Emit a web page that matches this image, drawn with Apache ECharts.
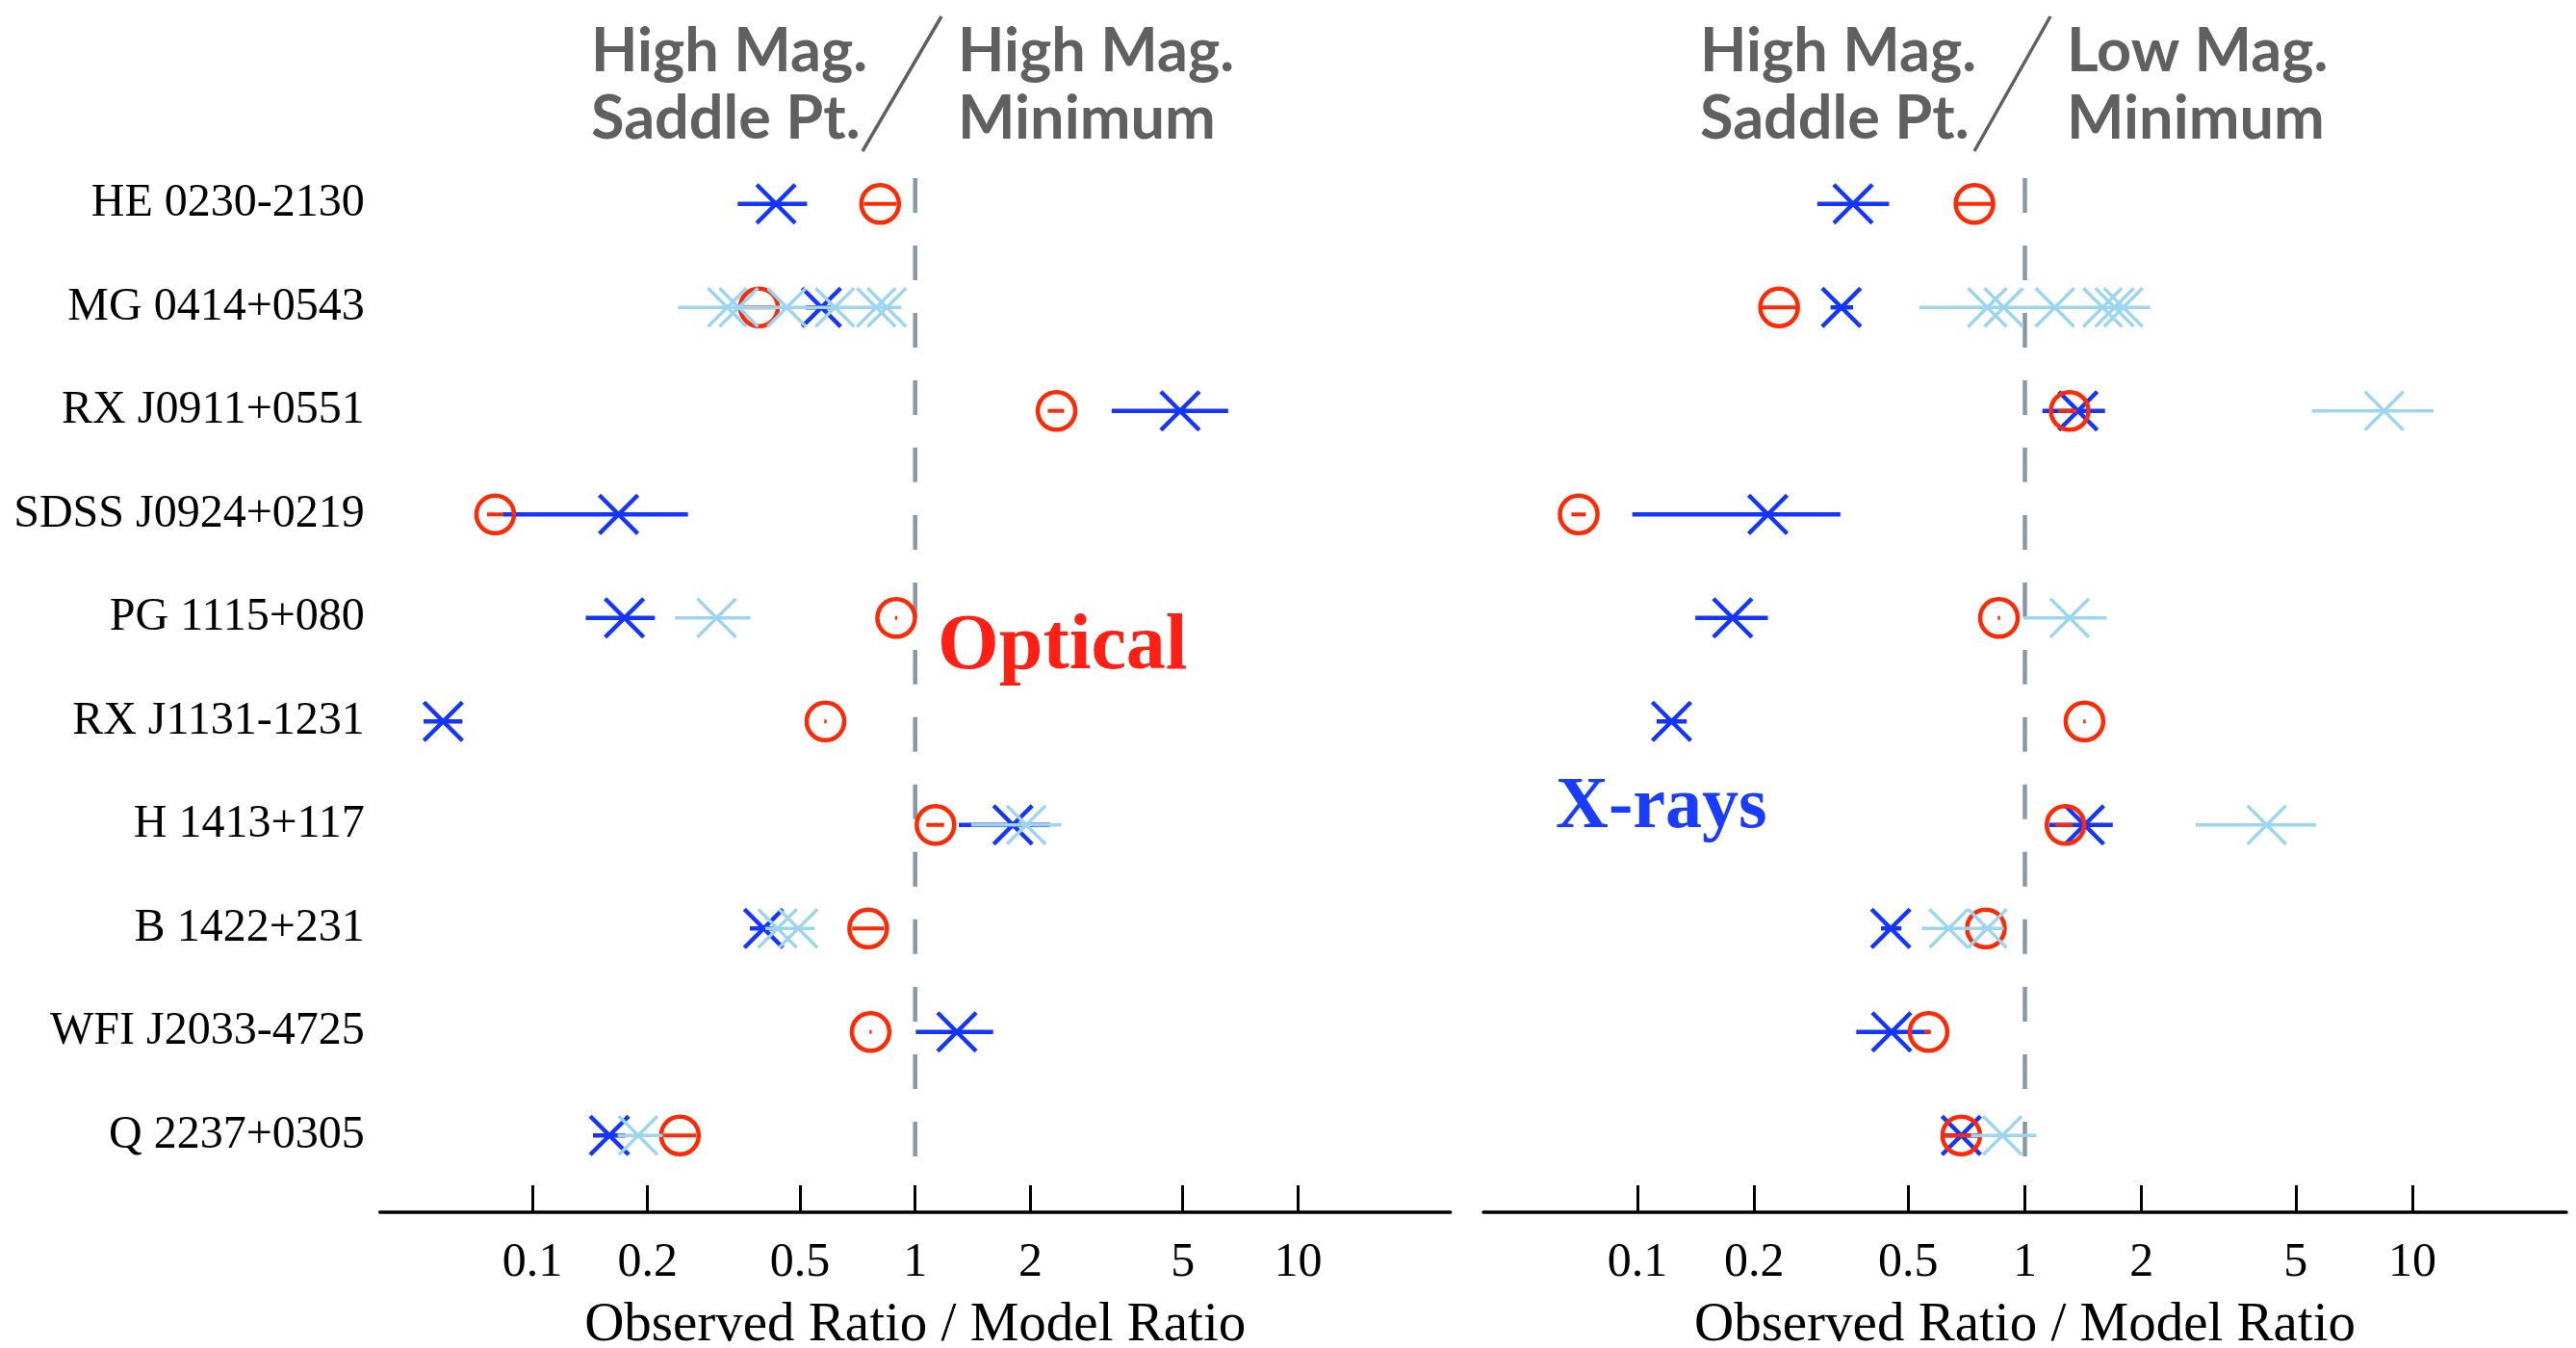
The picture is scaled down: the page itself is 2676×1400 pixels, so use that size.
<!DOCTYPE html>
<html>
<head>
<meta charset="utf-8">
<title>Observed Ratio / Model Ratio</title>
<script src="https://cdn.jsdelivr.net/npm/echarts@6/dist/echarts.min.js"></script>
<style>
html, body { margin: 0; padding: 0; background: #fff; }
#chart { width: 2676px; height: 1400px; }
</style>
</head>
<body>
<div id="chart"></div>
<script>
const quasars = [
    'HE 0230-2130', 'MG 0414+0543', 'RX J0911+0551', 'SDSS J0924+0219', 'PG 1115+080',
    'RX J1131-1231', 'H 1413+117', 'B 1422+231', 'WFI J2033-4725', 'Q 2237+0305',
]
const tickValues = [0.1, 0.2, 0.5, 1, 2, 5, 10]
const tickLabels = ['0.1', '0.2', '0.5', '1', '2', '5', '10']
const refRatio = 1

// optical panel. points: [row, ratio], bars: [row, low, high]
const optBluePts = [[0, 0.433], [1, 0.569], [2, 4.92], [3, 0.168], [4, 0.174], [5, 0.0585], [6, 1.80], [7, 0.402], [8, 1.285], [9, 0.159]]
const optBlueBars = [[0, 0.344, 0.522], [1, 0.518, 0.628], [2, 3.26, 6.57], [3, 0.0837, 0.255], [4, 0.138, 0.209], [5, 0.052, 0.0657], [6, 1.30, 2.25], [7, 0.37, 0.437], [8, 1.004, 1.598], [9, 0.144, 0.175]]
const optRedPts = [[0, 0.81], [1, 0.391], [2, 2.34], [3, 0.080], [4, 0.892], [5, 0.583], [6, 1.13], [7, 0.754], [8, 0.765], [9, 0.243]]
const optRedBars = [[0, 0.735, 0.893], [1, 0.355, 0.43], [2, 2.22, 2.45], [3, 0.0762, 0.0838], [4, 0.886, 0.898], [5, 0.579, 0.587], [6, 1.07, 1.19], [7, 0.685, 0.83], [8, 0.76, 0.77], [9, 0.22, 0.268]]
const optLightPts = [[1, 0.323], [1, 0.346], [1, 0.462], [1, 0.617], [1, 0.791], [1, 0.843], [4, 0.303], [6, 1.95], [7, 0.437], [7, 0.495], [9, 0.189]]
const optLightBars = [[1, 0.240, 0.920], [4, 0.236, 0.371], [6, 1.40, 2.41], [7, 0.406, 0.547], [9, 0.167, 0.219]]

// x-ray panel
const xrayBluePts = [[0, 0.360], [1, 0.336], [2, 1.371], [3, 0.217], [4, 0.176], [5, 0.1224], [6, 1.425], [7, 0.4505], [8, 0.4526], [9, 0.685]]
const xrayBlueBars = [[0, 0.291, 0.446], [1, 0.315, 0.36], [2, 1.11, 1.61], [3, 0.0969, 0.334], [4, 0.141, 0.217], [5, 0.112, 0.134], [6, 1.155, 1.686], [7, 0.425, 0.48], [8, 0.367, 0.569], [9, 0.618, 0.765]]
const xrayRedPts = [[0, 0.741], [1, 0.232], [2, 1.305], [3, 0.0705], [4, 0.857], [5, 1.425], [6, 1.273], [7, 0.793], [8, 0.564], [9, 0.685]]
const xrayRedBars = [[0, 0.67, 0.82], [1, 0.21, 0.257], [2, 1.22, 1.36], [3, 0.0675, 0.0735], [4, 0.851, 0.863], [5, 1.415, 1.435], [6, 1.2, 1.33], [7, 0.775, 0.81], [8, 0.55, 0.572], [9, 0.62, 0.75]]
const xrayLightPts = [[1, 0.80], [1, 0.882], [1, 1.195], [1, 1.587], [1, 1.704], [1, 1.795], [2, 8.46], [4, 1.305], [6, 4.21], [7, 0.636], [7, 0.80], [9, 0.875]]
const xrayLightBars = [[1, 0.534, 2.106], [2, 5.51, 11.35], [4, 0.99, 1.626], [6, 2.76, 5.65], [7, 0.542, 0.882], [9, 0.726, 1.07]]

const BLUE = '#1434ff'
const RED = '#ff2a05'
const LIGHT = '#9bd5ef'
const GREY = '#606060'
const serif = '"Liberation Serif", "Times New Roman", serif'
const sans = 'Lato, "Open Sans", sans-serif'

const chart = echarts.init(document.getElementById('chart'))

const barSeries = (idx, data, color, width) => ({
    type: 'custom',
    xAxisIndex: idx,
    yAxisIndex: idx,
    encode: { x: [1, 2], y: 0 },
    data: data,
    renderItem: (params, api) => {
        const a = api.coord([api.value(1), api.value(0)])
        const b = api.coord([api.value(2), api.value(0)])
        return {
            type: 'line',
            shape: { x1: a[0], y1: a[1], x2: b[0], y2: b[1] },
            style: { stroke: color, lineWidth: width },
        }
    },
})

const crossSeries = (idx, data, color, width) => ({
    type: 'custom',
    xAxisIndex: idx,
    yAxisIndex: idx,
    encode: { x: 1, y: 0 },
    data: data,
    renderItem: (params, api) => {
        const c = api.coord([api.value(1), api.value(0)])
        const s = 20
        return {
            type: 'group',
            children: [
                { type: 'line', shape: { x1: c[0] - s, y1: c[1] - s, x2: c[0] + s, y2: c[1] + s }, style: { stroke: color, lineWidth: width } },
                { type: 'line', shape: { x1: c[0] - s, y1: c[1] + s, x2: c[0] + s, y2: c[1] - s }, style: { stroke: color, lineWidth: width } },
            ],
        }
    },
})

const circleSeries = (idx, data) => ({
    type: 'custom',
    xAxisIndex: idx,
    yAxisIndex: idx,
    encode: { x: 1, y: 0 },
    data: data,
    renderItem: (params, api) => {
        const c = api.coord([api.value(1), api.value(0)])
        return {
            type: 'circle',
            shape: { cx: c[0], cy: c[1], r: 19.5 },
            style: { fill: 'none', stroke: RED, lineWidth: 4.5 },
        }
    },
})

const refLineSeries = idx => ({
    type: 'custom',
    xAxisIndex: idx,
    yAxisIndex: idx,
    encode: { x: 0, y: [1, 2] },
    data: [[refRatio, 0, quasars.length - 1]],
    renderItem: (params, api) => {
        const top = api.coord([api.value(0), api.value(1)])
        const bottom = api.coord([api.value(0), api.value(2)])
        const band = api.size([0, 1])[1]
        return {
            type: 'line',
            shape: { x1: top[0], y1: top[1] - 0.25 * band, x2: bottom[0], y2: bottom[1] + 0.22 * band },
            style: { stroke: '#8a98a6', lineWidth: 4.5, lineDash: [36, 34] },
        }
    },
})

const panel = (idx, blueBars, bluePts, redBars, redPts, lightBars, lightPts) => [
    refLineSeries(idx),
    barSeries(idx, blueBars, BLUE, 4.5),
    crossSeries(idx, bluePts, BLUE, 4.5),
    barSeries(idx, redBars, RED, 4),
    circleSeries(idx, redPts),
    barSeries(idx, lightBars, LIGHT, 3.5),
    crossSeries(idx, lightPts, LIGHT, 3.3),
]

const xAxisFor = idx => ({
    type: 'log',
    gridIndex: idx,
    logBase: 10,
    min: 0.04,
    max: 25,
    position: 'bottom',
    offset: 26,
    name: 'Observed Ratio / Model Ratio',
    nameLocation: 'middle',
    nameGap: 90,
    nameTextStyle: { fontFamily: serif, fontSize: 57, color: '#000' },
    axisLine: { show: true, onZero: false, lineStyle: { color: '#000', width: 3.5 } },
    axisTick: { show: true, inside: true, length: 28, customValues: tickValues, lineStyle: { color: '#000', width: 3 } },
    axisLabel: {
        show: true,
        customValues: tickValues,
        margin: 28,
        fontFamily: serif,
        fontSize: 50,
        color: '#000',
        formatter: v => {
            const i = tickValues.findIndex(t => Math.abs(t - v) < 1e-9 * t)
            return i >= 0 ? tickLabels[i] : ''
        },
    },
    splitLine: { show: false },
    minorTick: { show: false },
})

const yAxisFor = idx => ({
    type: 'category',
    gridIndex: idx,
    inverse: true,
    data: quasars,
    axisLine: { show: false },
    axisTick: { show: false },
    splitLine: { show: false },
    axisLabel: {
        show: idx === 0,
        margin: 16,
        fontFamily: serif,
        fontSize: 48,
        color: '#000',
    },
})

const header = (x, y, text) => ({
    type: 'text',
    left: x,
    top: y,
    style: { text: text, fill: GREY, font: `700 63px ${sans}`, textVerticalAlign: 'top' },
})

chart.setOption({
    backgroundColor: '#fff',
    animation: false,
    grid: [
        { left: 394.7, width: 1112, top: 158, height: 1075, outerBoundsMode: 'none' },
        { left: 1541, width: 1125, top: 158, height: 1075, outerBoundsMode: 'none' },
    ],
    xAxis: [xAxisFor(0), xAxisFor(1)],
    yAxis: [yAxisFor(0), yAxisFor(1)],
    graphic: [
        header(614, 22, 'High Mag.'),
        header(614, 92, 'Saddle Pt.'),
        header(995, 22, 'High Mag.'),
        header(995, 92, 'Minimum'),
        { type: 'line', shape: { x1: 978, y1: 17, x2: 896, y2: 157 }, style: { stroke: GREY, lineWidth: 3.5 } },
        header(1766, 22, 'High Mag.'),
        header(1766, 92, 'Saddle Pt.'),
        header(2147, 22, 'Low Mag.'),
        header(2147, 92, 'Minimum'),
        { type: 'line', shape: { x1: 2130, y1: 17, x2: 2051, y2: 157 }, style: { stroke: GREY, lineWidth: 3.5 } },
        {
            type: 'text', left: 974, top: 632,
            style: { text: 'Optical', fill: '#ff2015', font: `700 82px ${serif}` },
        },
        {
            type: 'text', left: 1616, top: 801,
            style: { text: 'X-rays', fill: '#1a3cff', font: `700 76px ${serif}` },
        },
    ],
    series: [
        ...panel(0, optBlueBars, optBluePts, optRedBars, optRedPts, optLightBars, optLightPts),
        ...panel(1, xrayBlueBars, xrayBluePts, xrayRedBars, xrayRedPts, xrayLightBars, xrayLightPts),
    ],
})
</script>
</body>
</html>
